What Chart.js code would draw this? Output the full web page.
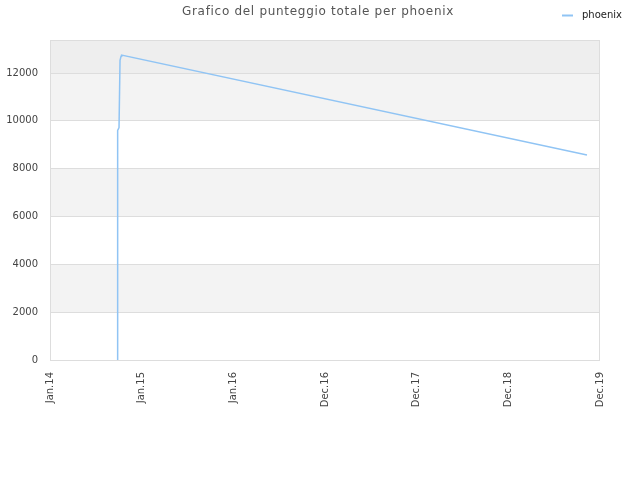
<!DOCTYPE html>
<html>
<head>
<meta charset="utf-8">
<script src="https://cdn.jsdelivr.net/npm/chart.js@4/dist/chart.umd.min.js"></script>
<style>
html,body{margin:0;padding:0;background:#fff;}
#wrap{width:640px;height:480px;}
</style>
</head>
<body>
<div id="wrap"><canvas id="c" width="640" height="480"></canvas></div>
<script>
const titleText = 'Grafico del punteggio totale per phoenix';
const seriesLabel = 'phoenix';
const xTickLabels = ['Jan.14','Jan.15','Jan.16','Dec.16','Dec.17','Dec.18','Dec.19'];
// x positions in years since Jan.14 (tick index units)
const xValues = [0.738,0.738,0.738,0.738,0.738,0.738,0.738,0.738,0.738,0.738,0.738,0.745,0.753,0.764,0.775,0.782,5.858];
const yValues = [0,400,1200,2100,3300,4300,5400,6500,7400,8500,9600,9650,9716,12526,12700,12748,8572];
const yTicks = [0,2000,4000,6000,8000,10000,12000];
const yMax = 13380;

const points = xValues.map((x,i)=>({x:x,y:yValues[i]}));

const bgPlugin = {
  id:'bands',
  beforeDraw(chart){
    const {ctx, chartArea:a, scales:{y}} = chart;
    ctx.save();
    const bands = [
      [12000, yMax, '#eeeeee'],
      [10000, 12000, '#f3f3f3'],
      [6000, 8000, '#f3f3f3'],
      [2000, 4000, '#f3f3f3']
    ];
    bands.forEach(b=>{
      const y1 = y.getPixelForValue(b[1]);
      const y0 = y.getPixelForValue(b[0]);
      ctx.fillStyle = b[2];
      ctx.fillRect(a.left, y1, a.right-a.left, y0-y1);
    });
    ctx.restore();
  },
  afterDatasetsDraw(chart){
    const {ctx, chartArea:a} = chart;
    ctx.save();
    ctx.strokeStyle = '#dddddd';
    ctx.lineWidth = 1;
    ctx.strokeRect(a.left+0.5, a.top+0.5, a.right-a.left-1, a.bottom-a.top);
    ctx.restore();
  },
  afterDraw(chart){
    const ctx = chart.ctx;
    ctx.save();
    ctx.font = '12px "DejaVu Sans"';
    ctx.fillStyle = '#555555';
    ctx.textAlign = 'center';
    ctx.textBaseline = 'middle';
    try { ctx.letterSpacing = '0.7px'; } catch(e) {}
    ctx.fillText(titleText, 318, 12);
    try { ctx.letterSpacing = '0px'; } catch(e) {}
    ctx.strokeStyle = '#90c4f4';
    ctx.lineWidth = 2;
    ctx.beginPath();
    ctx.moveTo(562, 15.5);
    ctx.lineTo(573, 15.5);
    ctx.stroke();
    ctx.font = '10px "DejaVu Sans"';
    ctx.fillStyle = '#222222';
    ctx.textAlign = 'left';
    ctx.fillText(chart.data.datasets[0].label, 582, 15);
    ctx.restore();
  }
};

new Chart(document.getElementById('c'), {
  type:'line',
  data:{datasets:[{
    label: seriesLabel,
    data: points,
    borderColor:'#90c4f4',
    borderWidth:1.5,
    pointRadius:0,
    fill:false,
    tension:0
  }]},
  options:{
    responsive:false,
    animation:false,
    layout:{padding:{top:40,right:40,left:0,bottom:0}},
    plugins:{legend:{display:false},title:{display:false},tooltip:{enabled:false}},
    scales:{
      x:{
        type:'linear', min:0, max:6,
        afterFit(s){ s.height = 120; },
        afterBuildTicks(s){ s.ticks = xTickLabels.map((l,i)=>({value:i})); },
        grid:{display:false, drawTicks:false},
        border:{display:false},
        ticks:{
          autoSkip:false, maxRotation:90, minRotation:90, padding:12,
          font:{family:'DejaVu Sans', size:10}, color:'#444444',
          callback:(v)=>xTickLabels[Math.round(v)]
        }
      },
      y:{
        type:'linear', min:0, max:yMax,
        afterFit(s){ s.width = 50; },
        afterBuildTicks(s){ s.ticks = yTicks.map(v=>({value:v})); },
        grid:{color:'#dddddd', drawTicks:false},
        border:{display:false},
        ticks:{
          padding:12,
          font:{family:'DejaVu Sans', size:10}, color:'#444444',
          callback:(v)=>String(v)
        }
      }
    }
  },
  plugins:[bgPlugin]
});
</script>
</body>
</html>
